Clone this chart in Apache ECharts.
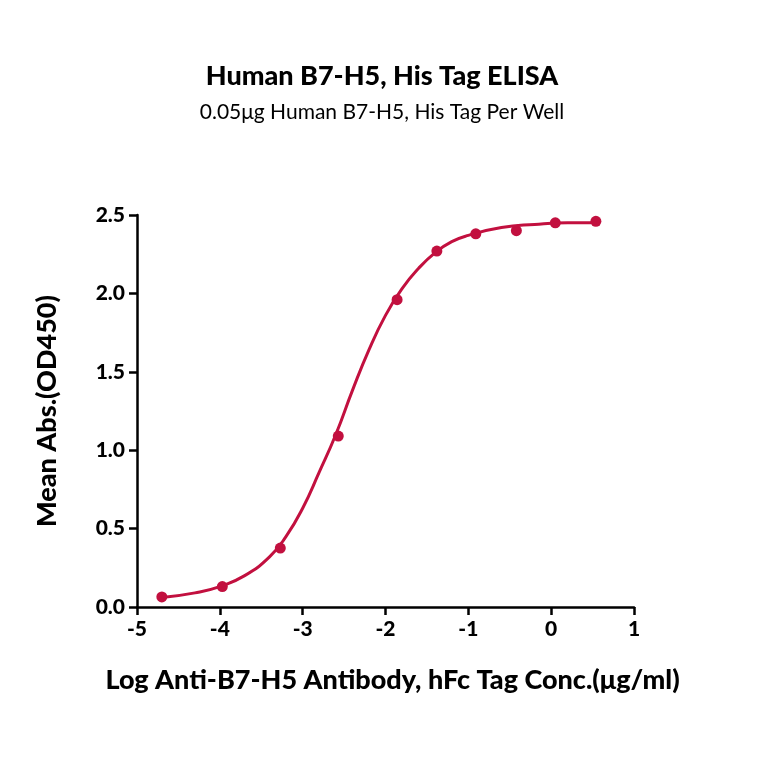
<!DOCTYPE html>
<html>
<head>
<meta charset="utf-8">
<script src="https://cdn.jsdelivr.net/npm/echarts@6/dist/echarts.min.js"></script>
<style>html,body{margin:0;padding:0;background:#fff}#chart{width:764px;height:764px}</style>
</head>
<body>
<div id="chart"></div>
<script>
// measured points (log conc, OD450)
const pointX = [-4.70, -3.97, -3.27, -2.57, -1.86, -1.38, -0.91, -0.42, 0.05, 0.54];
const pointY = [0.064, 0.13, 0.376, 1.09, 1.96, 2.27, 2.38, 2.40, 2.45, 2.46];

// fitted curve
const curveX = [-4.7, -4.3, -4.0, -3.7, -3.4, -3.2, -3.0, -2.8, -2.6, -2.4, -2.2, -2.0, -1.8, -1.6, -1.4, -1.2, -1.0, -0.6, -0.2, 0.2, 0.55];
const curveY = [0.06, 0.09, 0.13, 0.2, 0.32, 0.45, 0.63, 0.86, 1.10, 1.38, 1.64, 1.86, 2.03, 2.16, 2.26, 2.33, 2.37, 2.42, 2.44, 2.45, 2.45];

const red = '#c2103f';
const font = 'Lato, "Open Sans", sans-serif';

const chart = echarts.init(document.getElementById('chart'));
chart.setOption({
  animation: false,
  title: {
    text: 'Human B7-H5, His Tag ELISA',
    subtext: '0.05μg Human B7-H5, His Tag Per Well',
    left: 'center',
    top: 58,
    itemGap: 12,
    textStyle: { fontFamily: font, fontSize: 27, fontWeight: 900, color: '#000' },
    subtextStyle: { fontFamily: font, fontSize: 21, color: '#000' }
  },
  grid: { left: 137, right: 130, top: 215, bottom: 157 },
  xAxis: {
    type: 'value', min: -5, max: 1, interval: 1,
    name: 'Log Anti-B7-H5 Antibody, hFc Tag Conc.(μg/ml)',
    nameLocation: 'middle', nameGap: 60,
    nameTextStyle: { fontFamily: font, fontSize: 27, fontWeight: 900, color: '#000', padding: [0, 0, 0, 14] },
    axisLine: { lineStyle: { color: '#000', width: 2.5 } },
    axisTick: { length: 8, lineStyle: { color: '#000', width: 2.5 } },
    axisLabel: { fontFamily: font, fontSize: 21, fontWeight: 900, color: '#000', margin: 12 },
    splitLine: { show: false }
  },
  yAxis: {
    type: 'value', min: 0, max: 2.5, interval: 0.5,
    name: 'Mean Abs.(OD450)',
    nameLocation: 'middle', nameGap: 76,
    nameTextStyle: { fontFamily: font, fontSize: 27, fontWeight: 900, color: '#000' },
    axisLine: { show: true, onZero: false, lineStyle: { color: '#000', width: 2.5 } },
    axisTick: { show: true, length: 8, lineStyle: { color: '#000', width: 2.5 } },
    axisLabel: { fontFamily: font, fontSize: 21, fontWeight: 900, color: '#000', margin: 12,
      formatter: v => v.toFixed(1) },
    splitLine: { show: false }
  },
  series: [
    {
      type: 'line', smooth: true, symbol: 'none',
      data: curveX.map((x, i) => [x, curveY[i]]),
      lineStyle: { color: red, width: 3 }
    },
    {
      type: 'scatter', symbolSize: 11,
      data: pointX.map((x, i) => [x, pointY[i]]),
      itemStyle: { color: red, opacity: 1 }
    }
  ]
});
</script>
</body>
</html>
